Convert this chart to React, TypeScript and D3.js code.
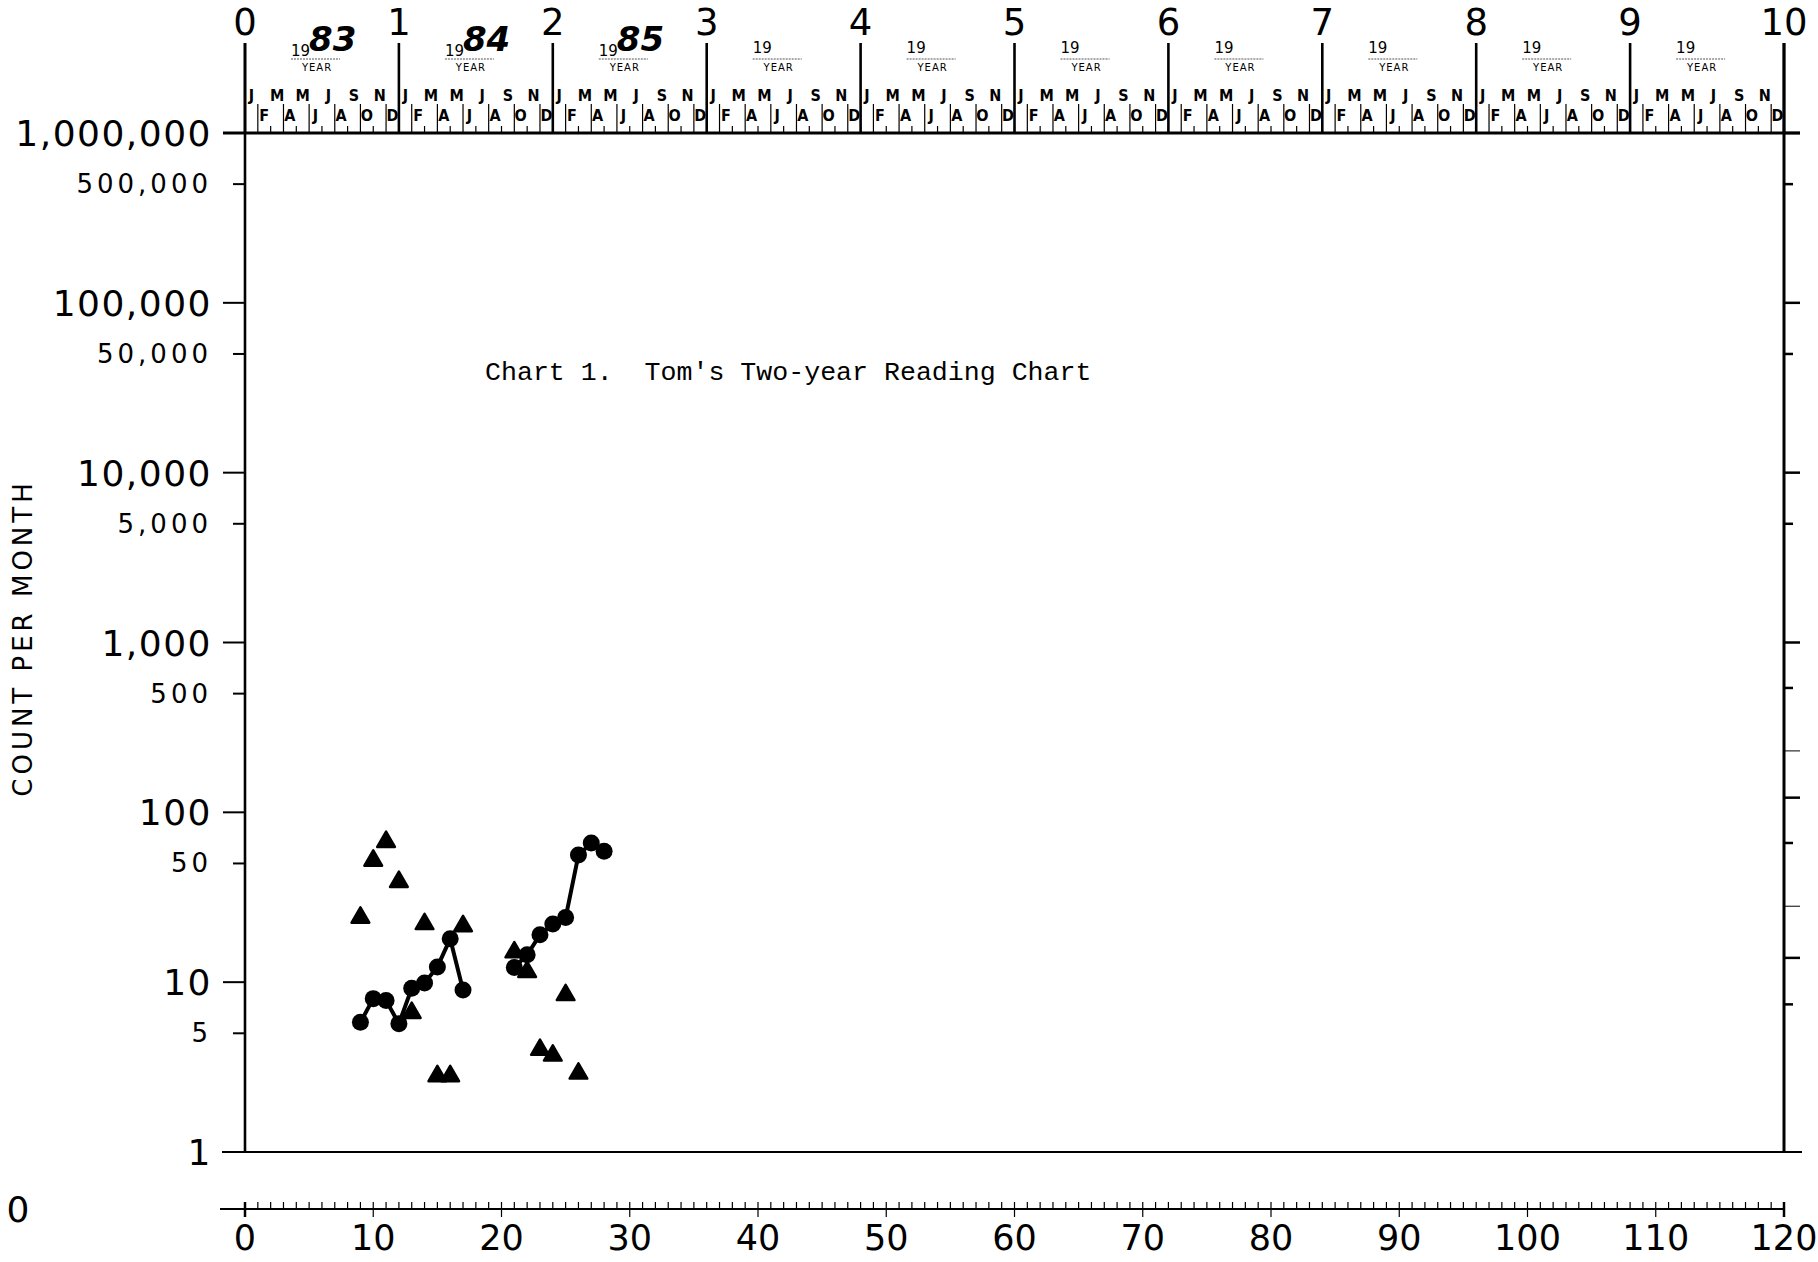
import * as d3 from 'd3';

// months since start of chart (0 = Jan 1983) and counts per month
const dotMonthsA = [9, 10, 11, 12, 13, 14, 15, 16, 17];
const dotValuesA = [5.8, 8.0, 7.8, 5.7, 9.2, 9.9, 12.3, 18, 9.0];
const dotMonthsB = [21, 22, 23, 24, 25, 26, 27, 28];
const dotValuesB = [12.2, 14.5, 19, 22, 24, 56, 66, 59];

const triMonths = [9, 10, 11, 12, 13, 14, 15, 16, 17, 21, 22, 23, 24, 25, 26];
const triValues = [24, 52, 67, 39, 6.6, 22, 2.8, 2.8, 21.4, 15, 11.5, 4.0, 3.7, 8.4, 2.9];

const yTickValues = [1, 5, 10, 50, 100, 500, 1000, 5000, 10000, 50000, 100000, 500000, 1000000];
const yTickLabels = ['1', '5', '10', '50', '100', '500', '1,000', '5,000', '10,000', '50,000', '100,000', '500,000', '1,000,000'];
const yTickMajor = [true, false, true, false, true, false, true, false, true, false, true, false, true];

const rightTickValues = [1000000, 500000, 100000, 50000, 10000, 5000, 1000, 540, 230, 122, 66, 28, 13.9, 7.4];
const rightTickKinds = ['long', 'short', 'long', 'short', 'long', 'short', 'long', 'short', 'thin', 'long', 'short', 'thin', 'long', 'short'];

const yearNumbers = [0, 1, 2, 3, 4, 5, 6, 7, 8, 9, 10];
const yearWritten = ['83', '84', '85', '', '', '', '', '', '', ''];
const upperMonthLetters = ['J', 'M', 'M', 'J', 'S', 'N'];
const lowerMonthLetters = ['F', 'A', 'J', 'A', 'O', 'D'];
const bottomTickLabels = [0, 10, 20, 30, 40, 50, 60, 70, 80, 90, 100, 110, 120];

const SANS = '"DejaVu Sans", sans-serif';
const COND = '"DejaVu Sans Condensed", "DejaVu Sans", sans-serif';

export default function App() {
    const W = 1818;
    const H = 1262;
    const left = 245;
    const right = 1784;
    const top = 133;
    const bottom = 1152;

    const x = d3.scaleLinear().domain([0, 120]).range([left, right]);
    const xYear = d3.scaleLinear().domain([0, 10]).range([left, right]);
    const y = d3.scaleLog().domain([1, 1000000]).range([bottom, top]);
    const bottomAxisY = 1209;

    const line = d3.line<[number, number]>().x((d) => x(d[0])).y((d) => y(d[1]));
    const seriesA = dotMonthsA.map((m, i) => [m, dotValuesA[i]] as [number, number]);
    const seriesB = dotMonthsB.map((m, i) => [m, dotValuesB[i]] as [number, number]);
    const tri = d3.symbol(d3.symbolTriangle, 135)() || '';

    const monthIdx = d3.range(0, 121);
    const unitTicks = d3.range(0, 121);

    return (
        <svg width={W} height={H} style={{ position: 'absolute', left: 0, top: 0, background: '#fff' }}>
            <rect width={W} height={H} fill="#fff" />

            {/* frame */}
            <line x1={223} x2={1800} y1={top} y2={top} stroke="#000" strokeWidth={3} />
            <line x1={222} x2={1802} y1={bottom} y2={bottom} stroke="#000" strokeWidth={2.2} />
            <line x1={left} x2={left} y1={43} y2={bottom} stroke="#000" strokeWidth={2.6} />
            <line x1={right} x2={right} y1={43} y2={bottom} stroke="#000" strokeWidth={3} />

            {/* year lines and numbers */}
            {yearNumbers.map((k) => (
                <g key={'yr' + k}>
                    <line x1={xYear(k)} x2={xYear(k)} y1={43} y2={top} stroke="#000" strokeWidth={2.6} />
                    <text x={xYear(k)} y={35} textAnchor="middle" fontFamily={SANS} fontSize={37}>{k}</text>
                </g>
            ))}
            {yearWritten.map((w, k) => {
                const x0 = xYear(k);
                return (
                    <g key={'yl' + k}>
                        <text x={x0 + 46} y={w ? 56 : 53} fontFamily={SANS} fontSize={15}>19</text>
                        {w && (
                            <text x={x0 + 64} y={51} fontFamily={SANS} fontStyle="italic" fontWeight={600} fontSize={34}>{w}</text>
                        )}
                        <line x1={x0 + 46} x2={x0 + 95} y1={59} y2={59} stroke="#555" strokeWidth={1} strokeDasharray="2,1" />
                        <text x={x0 + 72} y={71} textAnchor="middle" fontFamily={SANS} fontSize={10} letterSpacing={1}>YEAR</text>
                        {upperMonthLetters.map((l, j) => (
                            <text key={'u' + j} x={x(k * 12 + j * 2 + 0.5)} y={101} textAnchor="middle" fontFamily={COND} fontWeight={600} fontSize={16}>{l}</text>
                        ))}
                        {lowerMonthLetters.map((l, j) => (
                            <text key={'l' + j} x={x(k * 12 + j * 2 + 1.5)} y={121} textAnchor="middle" fontFamily={COND} fontWeight={600} fontSize={16}>{l}</text>
                        ))}
                    </g>
                );
            })}

            {/* month ticks on top axis */}
            {monthIdx.map((m) => (
                <line key={'mt' + m} x1={x(m)} x2={x(m)} y1={m % 2 === 1 ? 104 : 126} y2={top} stroke="#000" strokeWidth={1.2} />
            ))}

            {/* left axis ticks and labels */}
            {yTickValues.map((v, i) => (
                <g key={'yt' + v}>
                    <line x1={yTickMajor[i] ? 223 : 233} x2={left} y1={y(v)} y2={y(v)} stroke="#000" strokeWidth={2} />
                    <text
                        x={212}
                        y={y(v)}
                        dy={yTickMajor[i] ? 13 : 9}
                        textAnchor="end"
                        fontFamily={SANS}
                        fontSize={yTickMajor[i] ? 36 : 26}
                        letterSpacing={yTickMajor[i] ? 1.5 : 4}
                    >
                        {yTickLabels[i]}
                    </text>
                </g>
            ))}

            {/* right axis ticks */}
            {rightTickValues.map((v, i) => (
                <line
                    key={'rt' + i}
                    x1={right}
                    x2={rightTickKinds[i] === 'short' ? 1793 : 1800}
                    y1={y(v)}
                    y2={y(v)}
                    stroke="#000"
                    strokeWidth={rightTickKinds[i] === 'thin' ? 1 : 2.5}
                />
            ))}

            {/* y axis title */}
            <text
                transform={`translate(32, 638) rotate(-90)`}
                textAnchor="middle"
                fontFamily={SANS}
                fontSize={26}
                letterSpacing={4}
            >
                COUNT PER MONTH
            </text>

            {/* chart title */}
            <text x={485} y={380} fontFamily={'"Liberation Mono", monospace'} fontSize={26.6} style={{ whiteSpace: 'pre' }}>
                {"Chart 1.  Tom's Two-year Reading Chart"}
            </text>

            {/* bottom month axis */}
            <line x1={220} x2={right} y1={bottomAxisY} y2={bottomAxisY} stroke="#000" strokeWidth={2} />
            {unitTicks.map((t) => (
                <line key={'bt' + t} x1={x(t)} x2={x(t)} y1={bottomAxisY - 7} y2={t % 10 === 0 ? bottomAxisY + 8 : bottomAxisY} stroke="#000" strokeWidth={t === 0 || t === 120 ? 2.5 : 1.2} />
            ))}
            {bottomTickLabels.map((t) => (
                <text key={'bl' + t} x={x(t)} y={1250} textAnchor="middle" fontFamily={SANS} fontSize={35}>{t}</text>
            ))}
            <text x={18} y={1209} dy={13} textAnchor="middle" fontFamily={SANS} fontSize={36}>0</text>

            {/* data */}
            <path d={line(seriesA) || ''} fill="none" stroke="#000" strokeWidth={4} />
            <path d={line(seriesB) || ''} fill="none" stroke="#000" strokeWidth={4} />
            {seriesA.concat(seriesB).map((d, i) => (
                <circle key={'c' + i} cx={x(d[0])} cy={y(d[1])} r={8.5} fill="#000" />
            ))}
            {triMonths.map((m, i) => (
                <path
                    key={'t' + i}
                    d={tri}
                    transform={`translate(${x(m)}, ${y(triValues[i])})`}
                    fill="#000"
                    stroke="#000"
                    strokeWidth={2.5}
                    strokeLinejoin="round"
                />
            ))}
        </svg>
    );
}
